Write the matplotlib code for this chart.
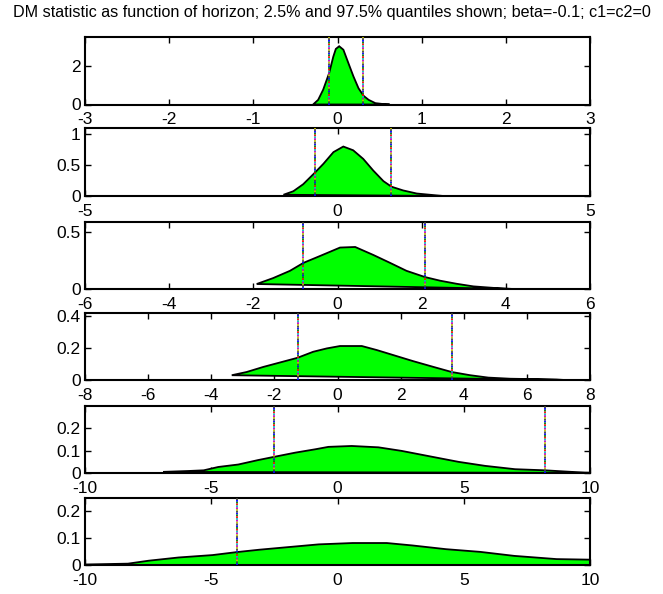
import numpy as np
import matplotlib
matplotlib.use("Agg")
import matplotlib.pyplot as plt

plt.rcParams["font.family"] = ["Liberation Sans", "DejaVu Sans"]

title = "DM statistic as function of horizon; 2.5% and 97.5% quantiles shown; beta=-0.1; c1=c2=0"

# density estimates for each horizon
x1 = [-0.29, -0.23, -0.17, -0.10, -0.05, -0.02, 0.02, 0.07, 0.13, 0.19, 0.25, 0.31, 0.37, 0.45, 0.57, 0.62]
f1 = [0.0, 0.24, 0.77, 1.62, 2.48, 2.88, 3.02, 2.84, 2.14, 1.45, 0.84, 0.45, 0.24, 0.07, 0.01, 0.0]
q1 = [-0.10, 0.30]

x2 = [-1.07, -0.875, -0.68, -0.445, -0.28, -0.08, 0.115, 0.31, 0.51, 0.71, 0.91, 1.07, 1.30, 1.57, 1.96, 2.1]
f2 = [0.02, 0.077, 0.19, 0.38, 0.52, 0.71, 0.80, 0.74, 0.60, 0.41, 0.24, 0.15, 0.09, 0.04, 0.01, 0.0]
q2 = [-0.45, 1.05]

x3 = [-1.92, -1.53, -1.13, -0.81, -0.42, 0.06, 0.42, 0.85, 1.25, 1.64, 2.08, 2.44, 2.83, 3.23, 3.70, 4.18]
f3 = [0.044, 0.096, 0.16, 0.23, 0.29, 0.365, 0.37, 0.30, 0.23, 0.16, 0.105, 0.073, 0.046, 0.023, 0.01, 0.0]
q3 = [-0.81, 2.08]

x4 = [-3.35, -2.88, -2.35, -1.82, -1.27, -0.77, -0.34, 0.08, 0.77, 1.24, 1.77, 2.40, 3.04, 3.62, 4.20, 4.78, 5.47, 6.95, 7.2]
f4 = [0.03, 0.05, 0.082, 0.11, 0.139, 0.177, 0.198, 0.213, 0.213, 0.188, 0.156, 0.118, 0.082, 0.05, 0.03, 0.015, 0.008, 0.003, 0.0]
q4 = [-1.26, 3.62]

x5 = [-6.9, -5.9, -5.3, -4.72, -3.93, -3.14, -2.48, -1.68, -0.89, -0.36, 0.56, 1.62, 2.54, 3.73, 4.79, 5.84, 7.03, 8.22, 9.27, 9.8, 11.0]
f5 = [0.005, 0.009, 0.012, 0.027, 0.038, 0.058, 0.073, 0.091, 0.106, 0.117, 0.121, 0.115, 0.099, 0.073, 0.05, 0.032, 0.017, 0.012, 0.005, 0.002, 0.0]
q5 = [-2.50, 8.22]

x6 = [-11.0, -8.3, -7.48, -6.3, -4.95, -4.0, -3.1, -1.92, -0.74, 0.6, 1.95, 2.96, 4.3, 5.65, 7.0, 8.68, 9.95, 11.5, 13.0]
f6 = [0.0, 0.005, 0.016, 0.028, 0.037, 0.048, 0.057, 0.067, 0.077, 0.082, 0.082, 0.073, 0.059, 0.049, 0.034, 0.022, 0.02, 0.012, 0.0]
q6 = [-4.0, 12.0]

xs = [x1, x2, x3, x4, x5, x6]
fs = [f1, f2, f3, f4, f5, f6]
qs = [q1, q2, q3, q4, q5, q6]

xlims = [3, 5, 6, 8, 10, 10]
ylims = [3.5, 1.1, 0.59, 0.42, 0.30, 0.25]
xticks = [np.arange(-3, 4, 1), [-5, 0, 5], np.arange(-6, 7, 2), np.arange(-8, 9, 2),
          [-10, -5, 0, 5, 10], [-10, -5, 0, 5, 10]]
yticks = [[0, 2], [0, 0.5, 1], [0, 0.5], [0, 0.2, 0.4], [0, 0.1, 0.2], [0, 0.1, 0.2]]
yticklabels = [["0", "2"], ["0", "0.5", "1"], ["0", "0.5"], ["0", "0.2", "0.4"],
               ["0", "0.1", "0.2"], ["0", "0.1", "0.2"]]

# old matlab colour order, used for the overlaid dotted quantile lines
line_colors = [(0, 0, 1), (0, 0.5, 0), (1, 0, 0), (0, 0.75, 0.75),
               (0.75, 0, 0.75), (0.75, 0.75, 0), (0.25, 0.25, 0.25)]

W, H = 663, 594
fig = plt.figure(figsize=(W / 100, H / 100), dpi=100)

# axes boxes in pixels: (top, bottom)
boxes = [(37, 104.5), (128, 196), (222, 289), (313, 380), (406, 473), (498, 565)]
left, right = 85, 590

for i in range(6):
    top, bot = boxes[i]
    ax = fig.add_axes([left / W, 1 - bot / H, (right - left) / W, (bot - top) / H])
    ax.fill(xs[i], fs[i], facecolor="#00ff00", edgecolor="black", linewidth=1.3, zorder=2)
    for q in qs[i]:
        for k, c in enumerate(line_colors):
            ax.plot([q, q], [0, ylims[i]], color=c, linewidth=1.3,
                    linestyle=(k * 1.0, (1.0, 6.0)), zorder=3)
    ax.set_xlim(-xlims[i], xlims[i])
    ax.set_ylim(0, ylims[i])
    ax.set_xticks(xticks[i])
    ax.set_xticklabels([str(t) for t in xticks[i]])
    ax.set_yticks(yticks[i])
    ax.set_yticklabels(yticklabels[i])
    ax.tick_params(direction="in", top=True, right=True, length=4, width=1,
                   labelsize=12.5)
    ax.tick_params(axis="x", pad=5.5)
    ax.tick_params(axis="y", pad=3)
    for s in ax.spines.values():
        s.set_linewidth(1.5)

fig.text(0.5, 1 - 12 / H, title, ha="center", va="center", fontsize=11.6)

fig.savefig("out.png", dpi=100)
